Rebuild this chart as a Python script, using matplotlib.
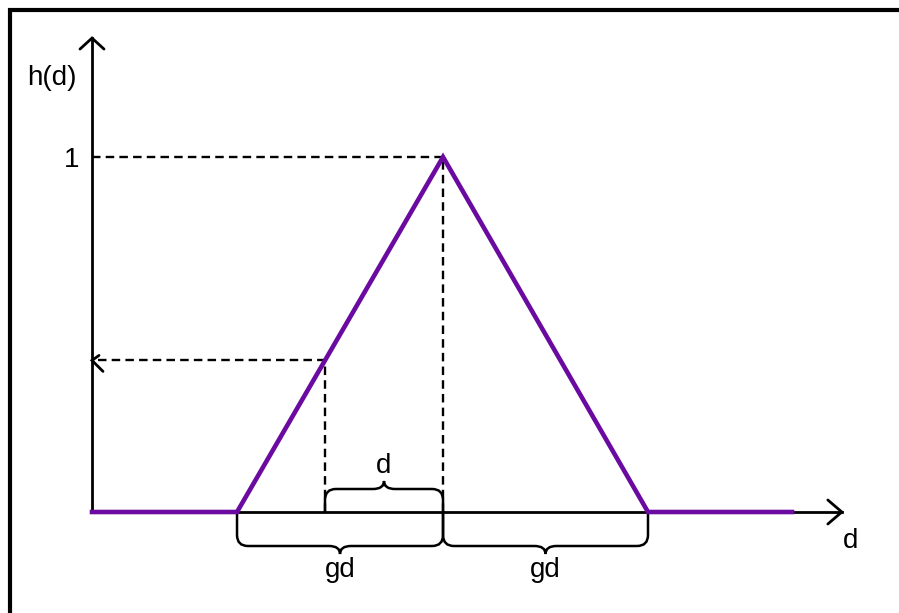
import numpy as np
import matplotlib
matplotlib.use("Agg")
import matplotlib.pyplot as plt
from matplotlib.path import Path
from matplotlib.patches import PathPatch

plt.rcParams['font.family'] = ['Liberation Sans', 'DejaVu Sans']

# diagram data (units: gd = 1 on the d axis, peak = 1 on the h axis)
d_pts = [0.0, 0.704, 1.704, 2.699, 3.398]
h_pts = [0.0, 0.0, 1.0, 0.0, 0.0]
d_peak = 1.704
d_probe = 1.131          # point at distance d left of the peak
h_probe = 0.427
d_axis_end = 3.64
h_axis_end = 1.335

# pixel layout: origin of the axes and scale
W, H = 899, 613
X0, Y0 = 92, 512
SX, SY = 206.0, 355.0

fig = plt.figure(figsize=(W / 100, H / 100), dpi=100)
ax = fig.add_axes([0, 0, 1, 1])
ax.set_xlim(-X0 / SX, (W - X0) / SX)
ax.set_ylim((Y0 - H) / SY, Y0 / SY)
ax.axis('off')


def px(dx):
    return dx / SX


def py(dy):
    return dy / SY


def chevron(x, y, dx1, dy1, dx2, dy2):
    ax.plot([x + px(dx1), x, x + px(dx2)], [y + py(dy1), y, y + py(dy2)],
            color='black', lw=2.0, solid_capstyle='round', solid_joinstyle='miter', zorder=4)


def brace(xa, xb, y0, depth, tip, r=11):
    # depth/tip in pixels, positive = downward
    s = -1 if depth > 0 else 1
    dm = abs(depth)
    dt = abs(tip)
    xm = (xa + xb) / 2
    ym = y0 + s * py(dm)
    yt = y0 + s * py(dt)
    yr = ym - s * py(r)
    verts = [
        (xa, y0), (xa, yr),
        (xa, ym), (xa + px(r), ym),
        (xm - px(r), ym),
        (xm, ym), (xm, yt),
        (xm, ym), (xm + px(r), ym),
        (xb - px(r), ym),
        (xb, ym), (xb, yr),
        (xb, y0),
    ]
    codes = [Path.MOVETO, Path.LINETO,
             Path.CURVE3, Path.CURVE3,
             Path.LINETO,
             Path.CURVE3, Path.CURVE3,
             Path.CURVE3, Path.CURVE3,
             Path.LINETO,
             Path.CURVE3, Path.CURVE3,
             Path.LINETO]
    ax.add_patch(PathPatch(Path(verts, codes), fill=False, lw=1.8,
                           edgecolor='black', capstyle='round', zorder=3))


dash = (0, (3.6, 2.2))

# axes
ax.plot([0, 0], [0, h_axis_end], color='black', lw=2.0, zorder=2)
ax.plot([0, d_axis_end], [0, 0], color='black', lw=2.0, zorder=2)
chevron(0, h_axis_end, -12, -11, 12, -11)
chevron(d_axis_end, 0, -14, 12, -14, -12)

# dashed guides
ax.plot([0, d_peak], [1, 1], color='black', lw=1.7, ls=dash, zorder=2)
ax.plot([d_peak, d_peak], [0, 1], color='black', lw=1.7, ls=dash, zorder=2)
ax.plot([d_probe, d_probe], [0, h_probe], color='black', lw=1.7, ls=dash, zorder=2)
ax.plot([0.03, d_probe], [h_probe, h_probe], color='black', lw=1.7, ls=dash, zorder=2)
chevron(0, h_probe, 7, 5, 11, -11)

# braces
brace(d_probe, d_peak, 0, -23, -31)
brace(d_pts[1], d_peak, 0, 34, 42)
brace(d_peak, d_pts[3], 0, 34, 42)

# membership curve
ax.plot(d_pts, h_pts, color='#6a0aa0', lw=3.3, solid_joinstyle='miter', zorder=5)

# labels
fs = 20
ax.text(px(52 - X0), py(Y0 - 78), 'h(d)', fontsize=fs, ha='center', va='center')
ax.text(px(72 - X0), 1 - py(3), '1', fontsize=fs, ha='center', va='center')
ax.text(px(851 - X0), py(Y0 - 541), 'd', fontsize=fs, ha='center', va='center')
ax.text((d_probe + d_peak) / 2, py(Y0 - 466), 'd', fontsize=fs, ha='center', va='center')
ax.text((d_pts[1] + d_peak) / 2, py(Y0 - 570), 'gd', fontsize=fs, ha='center', va='center')
ax.text((d_peak + d_pts[3]) / 2, py(Y0 - 570), 'gd', fontsize=fs, ha='center', va='center')

# frame around the picture (right and bottom edges fall outside)
ax.plot([px(10 - X0), px(10 - X0), px(W + 5 - X0)],
        [py(Y0 - H - 5), py(Y0 - 10), py(Y0 - 10)],
        color='black', lw=3.0, solid_joinstyle='miter', zorder=6)

fig.savefig('out.png', dpi=100)
